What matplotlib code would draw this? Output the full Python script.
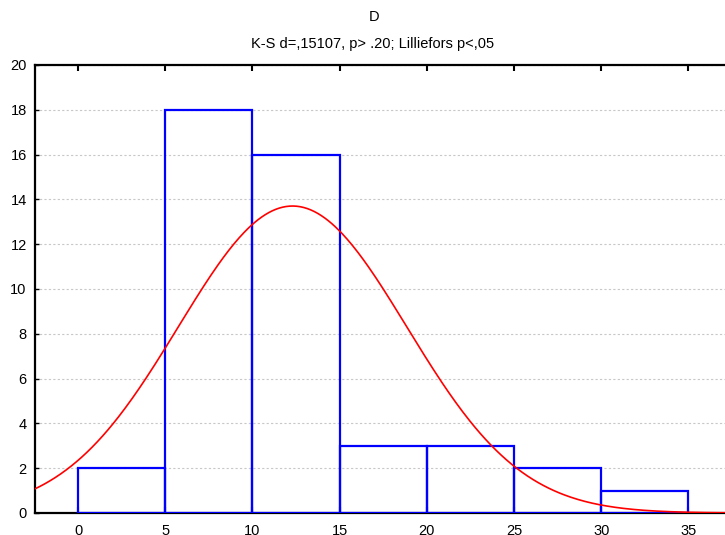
import numpy as np
import matplotlib
matplotlib.use("Agg")
import matplotlib.pyplot as plt

bin_edges = [0, 5, 10, 15, 20, 25, 30, 35]
counts = [2, 18, 16, 3, 3, 2, 1]
fit_mean = 12.3
fit_sd = 6.55
n_total = sum(counts)
bin_width = 5
x_ticks = [0, 5, 10, 15, 20, 25, 30, 35]
y_ticks = [0, 2, 4, 6, 8, 10, 12, 14, 16, 18, 20]

plt.rcParams['font.family'] = ['Liberation Sans', 'DejaVu Sans']

fig = plt.figure(figsize=(7.25, 5.35), dpi=100)
ax = fig.add_axes([35/725, 22/535, 1 - 35/725, (513-65)/535])

for i, c in enumerate(counts):
    ax.bar(bin_edges[i], c, width=bin_edges[i+1]-bin_edges[i], align='edge',
           fill=False, edgecolor='#0000ff', linewidth=1.6, zorder=3)

xs = np.linspace(-2.5, 37.5, 400)
ys = n_total * bin_width / (fit_sd * np.sqrt(2*np.pi)) * np.exp(-(xs-fit_mean)**2/(2*fit_sd**2))
ax.plot(xs, ys, color='#ff0000', linewidth=1.2, zorder=4)

ax.set_xlim(-2.47, 37.1)
ax.set_ylim(0, 20)
ax.set_xticks(x_ticks)
ax.set_yticks(y_ticks)
ax.tick_params(axis='x', direction='in', top=True, bottom=True, length=4, width=1.5,
               labelsize=10.5, pad=8)
ax.tick_params(axis='y', direction='in', left=True, length=3, width=1,
               labelsize=10.5, pad=6)
ax.grid(axis='y', linestyle=(0, (2, 2)), color='#c8c8c8', linewidth=0.8, zorder=0)
ax.spines['right'].set_visible(False)
for s in ['left', 'top', 'bottom']:
    ax.spines[s].set_linewidth(1.6)
    ax.spines[s].set_color('black')

fig.text(374/725, 1 - 17/535, 'D', ha='center', va='center', fontsize=10.5)
fig.text(373/725, 1 - 44/535, 'K-S d=,15107, p> .20; Lilliefors p<,05',
         ha='center', va='center', fontsize=10.5)

fig.savefig('out.png', dpi=100)
